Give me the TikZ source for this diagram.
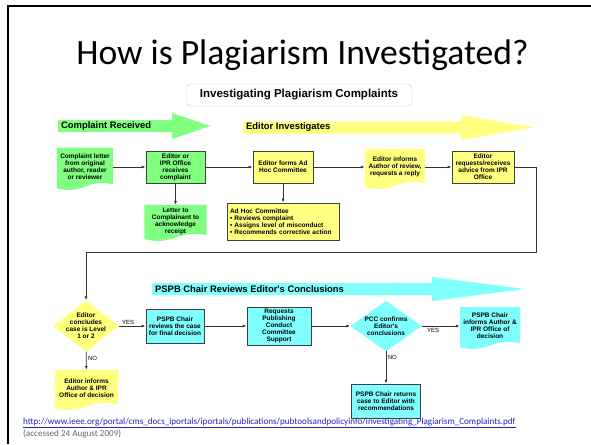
\documentclass[tikz,border=0pt]{standalone}
\usepackage{fontspec}
\setmainfont{Carlito}
\newfontfamily\chartfont{Liberation Sans}
\usetikzlibrary{arrows.meta,backgrounds,calc}
\definecolor{ltgreen}{HTML}{80FF80}
\definecolor{ltyellow}{HTML}{FFFF80}
\definecolor{ltcyan}{HTML}{80FFFF}
\definecolor{edgegray}{HTML}{404040}
\definecolor{linkblue}{HTML}{2020C8}
\newcommand{\chartsize}{\chartfont\bfseries\fontsize{6.5}{7}\selectfont}

\begin{document}
\begin{tikzpicture}[x=1pt,y=-1pt,>={Latex[length=4pt,width=3pt]},
  proc/.style={draw=edgegray,line width=0.8pt,font=\chartsize,align=center,inner sep=1pt},
  doc/.style={font=\chartsize,align=center,inner sep=1pt},
  choice/.style={font=\chartsize,align=center,inner sep=0pt},
  flow/.style={->,draw=black!80,line width=0.8pt},
  tag/.style={font=\chartfont\fontsize{6}{6}\selectfont,inner sep=1.5pt},
  phase/.style={font=\chartfont\bfseries\fontsize{9.4}{10}\selectfont,anchor=west,inner sep=0pt}]
\useasboundingbox (0,0) rectangle (591,444);
\draw[line width=2pt] (8,444) -- (8,6) -- (591,6);

\node[anchor=base,font=\fontsize{35.6}{40}\selectfont] (title) at (302.5,64) {How is Plagiarism Investigated?};
\node[draw=black!20,rounded corners=5pt,minimum width=226,minimum height=22,
  font=\chartfont\bfseries\fontsize{11.5}{12}\selectfont] (sub) at (299,95) {Investigating Plagiarism Complaints};

% phase arrows
\fill[ltgreen] (58,120) -- (172,120) -- (172,113) -- (210,126) -- (172,139) -- (172,132) -- (58,132) -- cycle;
\fill[ltyellow] (243,121.5) -- (461,121.5) -- (461,115) -- (533,127.5) -- (461,140) -- (461,133.5) -- (243,133.5) -- cycle;
\fill[ltcyan] (152,283) -- (432,283) -- (432,277) -- (525,289) -- (432,301) -- (432,295) -- (152,295) -- cycle;
\node[phase] (received) at (61,126) {Complaint Received};
\node[phase] (investigates) at (246,127.5) {Editor Investigates};
\node[phase] (reviews) at (155,289) {PSPB Chair Reviews Editor's Conclusions};

% first row
\node[doc,minimum width=56,minimum height=38] (letter) at (85,167) {Complaint letter\\from original\\author, reader\\or reviewer};
\node[proc,fill=ltgreen,minimum width=59,minimum height=32] (recv) at (175.5,167) {Editor or\\IPR Office\\receives\\complaint};
\node[proc,fill=ltyellow,minimum width=60,minimum height=32] (adhoc) at (283,167) {Editor forms Ad\\Hoc Committee};
\node[doc,minimum width=60,minimum height=36] (inform) at (395,167) {Editor informs\\Author of review,\\requests a reply};
\node[proc,fill=ltyellow,minimum width=62,minimum height=32] (advice) at (483,167) {Editor\\requests/receives\\advice from IPR\\Office};
\node[doc,minimum width=62,minimum height=32] (ack) at (175.5,221) {Letter to\\Complainant to\\acknowledge\\receipt};
\node[proc,fill=ltyellow,minimum width=112,minimum height=37,align=left,text width=106] (panel) at (283,221.5)
  {Ad Hoc Committee\\ \textbullet\ Reviews complaint\\ \textbullet\ Assigns level of misconduct\\ \textbullet\ Recommends corrective action};

% second row
\node[choice,minimum width=65,minimum height=51] (level) at (86,326) {Editor\\concludes\\case is Level\\1 or 2};
\node[proc,fill=ltcyan,minimum width=58,minimum height=34] (chair) at (175,326) {PSPB Chair\\reviews the case\\for final decision};
\node[proc,fill=ltcyan,minimum width=64,minimum height=38] (pcc) at (279,326) {Requests\\Publishing\\Conduct\\Committee\\Support};
\node[choice,minimum width=71,minimum height=50] (confirm) at (386,326) {PCC confirms\\Editor's\\conclusions};
\node[doc,minimum width=60,minimum height=38] (final) at (490,326) {PSPB Chair\\informs Author \&\\IPR Office of\\decision};
\node[doc,minimum width=63,minimum height=36] (decide) at (86.5,388) {Editor informs\\Author \& IPR\\Office of decision};
\node[proc,fill=ltcyan,minimum width=69,minimum height=34] (returns) at (386,401) {PSPB Chair returns\\case to Editor with\\recommendations};

\begin{scope}[on background layer]
\foreach \n/\c in {level/ltyellow,confirm/ltcyan}
  \fill[\c] (\n.north) -- (\n.east) -- (\n.south) -- (\n.west) -- cycle;
\foreach \n/\c in {letter/ltgreen,ack/ltgreen,inform/ltyellow,final/ltcyan,decide/ltyellow}
  \fill[\c] (\n.north west) -- (\n.north east) -- ($(\n.south east)+(0,-2)$)
    .. controls ($(\n.south)+(0,-8)$) and ($(\n.south)+(0,9)$) .. ($(\n.south west)+(0,2)$) -- cycle;
\end{scope}

% connectors
\draw[flow] (letter) -- (recv);
\draw[flow] (recv) -- (adhoc);
\draw[flow] (adhoc) -- (inform);
\draw[flow] (inform) -- (advice);
\draw[flow] (recv) -- (ack);
\draw[flow] (adhoc) -- (panel);
\draw[flow] (advice.east) -- ++(22,0) |- ($(level.north)+(0,-48)$) -- (level.north);
\draw[flow] (level) -- node[tag,above,pos=0.35]{YES} (chair);
\draw[flow] (chair) -- (pcc);
\draw[flow] (pcc) -- (confirm);
\draw[flow] (confirm) -- node[tag,below,pos=0.3]{YES} (final);
\draw[flow] (level) -- node[tag,right,pos=0.35]{NO} (decide);
\draw[flow] (confirm) -- node[tag,right,pos=0.2]{NO} (returns);

% source
\node[anchor=base west,inner sep=0pt,text=linkblue,font=\fontsize{9.1}{10}\selectfont] (link) at (23,424)
  {\underline{http://www.ieee.org/portal/cms\_docs\_iportals/iportals/publications/pubtoolsandpolicyinfo/investigating\_Plagiarism\_Complaints.pdf}};
\node[anchor=base west,inner sep=0pt,text=black!60,font=\fontsize{9.1}{10}\selectfont] (accessed) at (23,436) {(accessed 24 August 2009)};
\end{tikzpicture}
\end{document}
